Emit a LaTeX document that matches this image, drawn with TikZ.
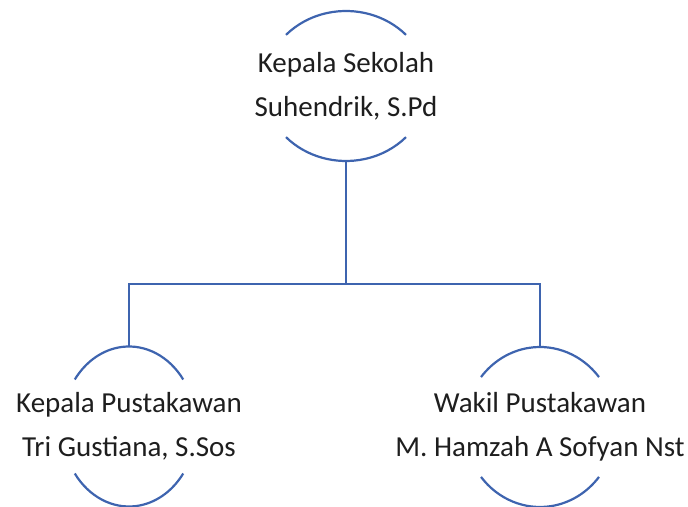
\documentclass[tikz,border=0pt]{standalone}
\usepackage{fontspec}
\setmainfont{Carlito}
\usetikzlibrary{positioning,shapes.geometric}
\definecolor{orgline}{RGB}{62,100,175}
\definecolor{orgtext}{RGB}{30,30,30}

\begin{document}
\begin{tikzpicture}[
    x=1pt, y=1pt,
    ring/.style={ellipse, inner sep=0pt, outer sep=0pt},
    persontext/.style={align=center, inner sep=0pt, text=orgtext, font=\fontsize{29}{44}\selectfont},
    link/.style={draw=orgline, line width=2.2pt}
    ]
    \useasboundingbox (0,0) rectangle (688,506);

    % rings (only top and bottom arcs are drawn)
    \node[ring, minimum width=164pt, minimum height=150pt] (kepsek) at (346,420) {};
    \node[ring, minimum width=134pt, minimum height=160pt] (kapus) at (129,79.5) {};
    \node[ring, minimum width=151pt, minimum height=160pt] (wapus) at (540,79) {};

    \node[persontext] (kepsek-txt) at (kepsek.center) {Kepala Sekolah\\Suhendrik, S.Pd};
    \node[persontext] (kapus-txt) at (kapus.center) {Kepala Pustakawan\\Tri Gustiana, S.Sos};
    \node[persontext] (wapus-txt) at (wapus.center) {Wakil Pustakawan\\M. Hamzah A Sofyan Nst};

    \foreach \n/\a/\rx/\ry in {kepsek/43/82/75, kapus/36/67/80, wapus/38.6/75.5/80}{
        \draw[link] (\n.center) ++(\a:\rx pt and \ry pt) arc[start angle=\a, end angle=180-\a, x radius=\rx pt, y radius=\ry pt];
        \draw[link] (\n.center) ++(180+\a:\rx pt and \ry pt) arc[start angle=180+\a, end angle=360-\a, x radius=\rx pt, y radius=\ry pt];
    }

    % connectors
    \coordinate (bus) at (kepsek.south |- 0,222);
    \draw[link] (kepsek.south) -- (bus) -| (kapus.north);
    \draw[link] (bus) -| (wapus.north);
\end{tikzpicture}
\end{document}
